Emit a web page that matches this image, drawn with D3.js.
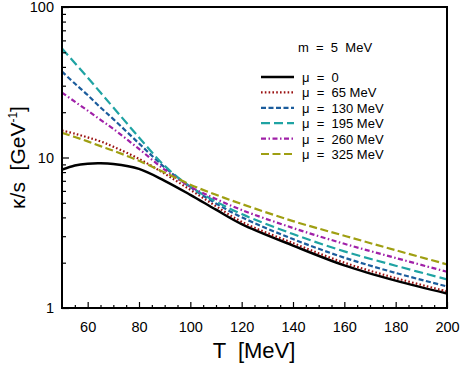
<!DOCTYPE html>
<html>
<head>
<meta charset="utf-8">
<script src="https://cdn.jsdelivr.net/npm/d3@7"></script>
<style>
  body { margin: 0; background: #fff; }
  svg text { font-family: "Liberation Sans", Arial, sans-serif; white-space: pre; }
</style>
</head>
<body>
<svg id="chart" width="463" height="371"></svg>
<script>
const temps = [50, 55, 60, 65, 70, 80, 90, 100, 110, 120, 140, 160, 180, 200];

// kappa/s in GeV^-1 for each mu
const mu0   = [8.3, 8.85, 9.1, 9.15, 9.05, 8.4, 7.0, 5.65, 4.5, 3.61, 2.6, 1.92, 1.52, 1.25];
const mu65  = [15.1, 14.4, 13.6, 12.8, 11.8, 9.8, 7.8, 6.1, 4.75, 3.74, 2.7, 2.0, 1.58, 1.29];
const mu130 = [37.2, 31, 26, 21.5, 18, 12.4, 8.6, 6.35, 4.95, 4.01, 2.87, 2.16, 1.71, 1.39];
const mu195 = [53, 42.5, 34, 27, 21.5, 13.6, 8.8, 6.4, 5.1, 4.21, 3.1, 2.38, 1.91, 1.55];
const mu260 = [27, 23.5, 20.5, 17.8, 15.5, 11.4, 8.3, 6.4, 5.3, 4.48, 3.4, 2.67, 2.15, 1.74];
const mu325 = [14.6, 13.7, 12.8, 11.9, 11.1, 9.5, 7.95, 6.6, 5.65, 4.91, 3.78, 3.02, 2.42, 1.95];

const labels = ["μ = 0", "μ = 65 MeV", "μ = 130 MeV", "μ = 195 MeV", "μ = 260 MeV", "μ = 325 MeV"];
const xTicks = [60, 80, 100, 120, 140, 160, 180, 200];
const yTicks = [1, 10, 100];

const seriesStyle = [
  {color: "#000000", dash: null, w: 2.5},
  {color: "#9a1010", dash: "1.6,2.2", w: 2.2},
  {color: "#1b5c9c", dash: "5,2.5", w: 2.2},
  {color: "#1fa3a3", dash: "9,4", w: 2.2},
  {color: "#a020a8", dash: "5,2.5,1.5,2.5", w: 2.2},
  {color: "#9f9f12", dash: "8,3.5", w: 2.2}
];

const series = [mu0, mu65, mu130, mu195, mu260, mu325].map((vals, i) => ({
  label: labels[i],
  style: seriesStyle[i],
  points: temps.map((t, j) => ({t: t, v: vals[j]}))
}));

const svg = d3.select("#chart");
const margin = {top: 7, right: 16, bottom: 63, left: 62};
const W = 463, H = 371;

const x = d3.scaleLinear().domain([50, 200]).range([margin.left, W - margin.right]);
const y = d3.scaleLog().domain([1, 100]).range([H - margin.bottom, margin.top]);

const plot = svg.append("g");

plot.append("clipPath").attr("id", "clip")
  .append("rect")
  .attr("x", margin.left).attr("y", margin.top)
  .attr("width", x(200) - x(50)).attr("height", y(1) - y(100));

const line = d3.line()
  .x(d => x(d.t))
  .y(d => y(d.v))
  .curve(d3.curveCatmullRom.alpha(0.5));

plot.selectAll(".curve")
  .data(series)
  .join("path")
  .attr("class", "curve")
  .attr("clip-path", "url(#clip)")
  .attr("d", d => line(d.points))
  .attr("fill", "none")
  .attr("stroke", d => d.style.color)
  .attr("stroke-width", d => d.style.w)
  .attr("stroke-dasharray", d => d.style.dash);

// x axis: ticks pointing inward
const xMinor = d3.range(55, 200, 5).filter(v => v % 20 !== 0);
const xAxis = svg.append("g").attr("transform", `translate(0,${y(1)})`);
xAxis.call(d3.axisBottom(x).tickValues(xMinor).tickSize(-3).tickFormat(""));
xAxis.append("g").call(d3.axisBottom(x).tickValues(xTicks).tickSize(-6).tickFormat(d3.format("d")));
xAxis.selectAll(".domain").remove();
xAxis.selectAll("line").attr("stroke", "#000").attr("stroke-width", 1.2);
xAxis.selectAll("text").attr("y", 14).attr("font-size", 14.5).attr("fill", "#000");

// y axis: log, minor ticks at 2..9
const yMinor = [];
[1, 10].forEach(b => { for (let k = 2; k <= 9; k++) yMinor.push(b * k); });
const yAxis = svg.append("g").attr("transform", `translate(${x(50)},0)`);
yAxis.call(d3.axisLeft(y).tickValues(yMinor).tickSize(-4).tickFormat(""));
yAxis.append("g").call(d3.axisLeft(y).tickValues(yTicks).tickSize(-7).tickFormat(d3.format("d")));
yAxis.selectAll(".domain").remove();
yAxis.selectAll("line").attr("stroke", "#000").attr("stroke-width", 1.2);
yAxis.selectAll("text").attr("x", -8).attr("font-size", 14.5).attr("fill", "#000");

// frame
svg.append("rect")
  .attr("x", x(50)).attr("y", y(100))
  .attr("width", x(200) - x(50)).attr("height", y(1) - y(100))
  .attr("fill", "none").attr("stroke", "#000").attr("stroke-width", 2);

// axis titles
svg.append("text")
  .attr("x", 254).attr("y", 358)
  .attr("text-anchor", "middle").attr("font-size", 22)
  .text("T  [MeV]");

const yt = svg.append("text")
  .attr("transform", `translate(25,${(y(1) + y(100)) / 2}) rotate(-90)`)
  .attr("text-anchor", "middle").attr("font-size", 21);
yt.append("tspan").text("κ/s  [GeV");
yt.append("tspan").attr("font-size", 12).attr("dy", -8).text("-1");
yt.append("tspan").attr("dy", 8).text("]");

// legend
const legend = svg.append("g");
legend.append("text").attr("x", 298).attr("y", 52).attr("font-size", 13).text("m  =  5  MeV");
const rows = legend.selectAll(".row")
  .data(series)
  .join("g")
  .attr("class", "row")
  .attr("transform", (d, i) => `translate(261,${77 + i * 15.4})`);
rows.append("line")
  .attr("x1", 0).attr("x2", 33)
  .attr("stroke", d => d.style.color)
  .attr("stroke-width", d => d.style.w)
  .attr("stroke-dasharray", d => d.style.dash);
rows.append("text")
  .attr("x", 41).attr("y", 5).attr("font-size", 13)
  .text(d => d.label.replace(/ = /, "  =  "));
</script>
</body>
</html>
